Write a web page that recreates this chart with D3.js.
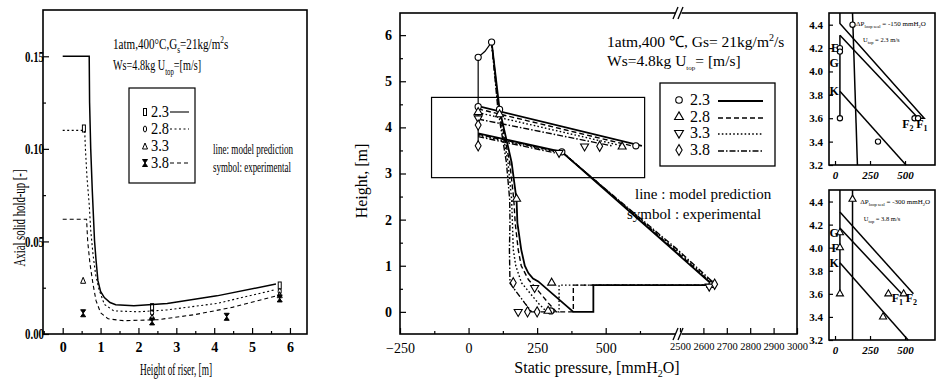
<!DOCTYPE html>
<html><head><meta charset="utf-8">
<script src="https://cdn.jsdelivr.net/npm/d3@7"></script>
<style>
body{margin:0;background:#fff}
svg{display:block}
text{font-family:"Liberation Serif","Times New Roman",serif;fill:#000}
</style>
</head><body>
<svg id="c" width="952" height="385"></svg>
<script>
// ---------------- DATA ----------------
// Left panel: axial solid hold-up vs height
const riserHeightTicks = [0,1,2,3,4,5,6];
const riserHeightMinor = [-0.5,0.5,1.5,2.5,3.5,4.5,5.5];
const holdupTicks = [0, 0.05, 0.10, 0.15];
const holdupMinor = [0.025, 0.075, 0.125];
const velocityLabels = ["2.3","2.8","3.3","3.8"];
const holdupModel23 = [[0,0.15],[0.7,0.15],[0.71,0.125],[0.74,0.10],[0.78,0.078],[0.84,0.0505],[0.88,0.04],[0.93,0.0288],[1.0,0.023],[1.1,0.0197],[1.25,0.017],[1.4,0.0158],[1.88,0.0152],[2.76,0.0165],[4.07,0.0206],[5.63,0.027]];
const holdupModel28 = [[0,0.11],[0.58,0.11],[0.6,0.1],[0.64,0.085],[0.7,0.07],[0.74,0.056],[0.8,0.043],[0.87,0.032],[0.96,0.024],[1.1,0.016],[1.35,0.0125],[2.0,0.012],[2.75,0.013],[4.07,0.0165],[5.63,0.024]];
const holdupModel38 = [[0,0.062],[0.63,0.062],[0.66,0.05],[0.72,0.038],[0.8,0.027],[0.88,0.018],[1.0,0.0115],[1.2,0.0082],[1.6,0.0072],[2.5,0.0077],[3.5,0.0105],[4.5,0.0145],[5.63,0.0205]];
const holdupExp23 = [[0.56,0.111],[2.36,0.0145],[5.73,0.0262]];
const holdupExp28 = [[2.36,0.0115],[5.73,0.023]];
const holdupExp33 = [[0.54,0.029],[2.36,0.0092],[5.73,0.0212]];
const holdupExp38 = [[0.54,0.0112],[2.36,0.0068],[4.33,0.0093],[5.73,0.0192]];

// Middle panel: static pressure loop
const pressureTicksA = [-250,0,250,500];
const pressureMinorA = [-125,125,375,625];
const pressureTicksB = [2500,2600,2700,2800,2900,3000];
const heightTicks = [0,1,2,3,4,5,6];
const heightMinor = [0.5,1.5,2.5,3.5,4.5,5.5];
const riser23 = [[84,5.85],[113,4.39],[157,3.24],[175,2.43],[178,1.93],[192,1.35],[205,1.0],[218,0.84],[235,0.72],[254,0.66],[382,0],[455,0],[455,0.58],[2640,0.58]];
const riser28 = [[84,5.85],[111,4.39],[150,3.24],[165,2.43],[170,1.93],[181,1.35],[192,1.0],[218,0.7],[255,0.45],[291,0.19],[320,0],[382,0],[382,0.58],[2640,0.58]];
const riser33 = [[84,5.85],[109,4.39],[144,3.24],[157,2.43],[160,1.93],[163,1.35],[172,1.0],[193,0.63],[254,0.19],[285,0],[330,0],[330,0.58],[2640,0.58]];
const riser38 = [[84,5.85],[107,4.39],[138,3.24],[150,2.43],[151,1.93],[149,1.35],[150,1.0],[151,0.62],[205,0.19],[230,0],[290,0]];
const standpipe = [[84,5.85],[60,5.65],[35,5.52],[35,3.6]];
const loopUpper23 = [[35,4.46],[632,3.6]];
const loopUpper28 = [[35,4.40],[595,3.6]];
const loopUpper33 = [[35,4.32],[560,3.6]];
const loopUpper38 = [[35,4.18],[522,3.6]];
const loopLower23 = [[35,3.87],[340,3.47],[760,1.27],[2500,1.21],[2640,0.58]];
const loopLower28 = [[35,3.85],[344,3.45],[760,1.30],[2500,1.24],[2643,0.58]];
const loopLower33 = [[35,3.83],[348,3.43],[760,1.33],[2500,1.27],[2646,0.58]];
const loopLower38 = [[35,3.80],[352,3.40],[760,1.36],[2500,1.30],[2650,0.60]];
const pressExp23 = [[84,5.85],[35,5.52],[35,4.45],[113,4.39],[340,3.47],[610,3.6],[2640,0.6],[300,0.02]];
const pressExp28 = [[35,4.33],[113,4.28],[303,0.63],[290,0.02],[560,3.58],[2632,0.58],[175,2.45]];
const pressExp33 = [[35,4.2],[241,0.52],[181,0.0],[423,3.59],[2625,0.55],[330,3.45]];
const pressExp38 = [[35,4.05],[35,3.6],[163,0.63],[215,0],[250,0],[478,3.59],[2648,0.6]];
const insetRegionP = [-135, 642];
const insetRegionH = [2.91, 4.65];

// Right insets (zoom of 3.2–4.5 m)
const insetHeightTicks = [3.2,3.4,3.6,3.8,4.0,4.2,4.4];
const insetPressTicks = [0,250,500];
const topF1 = [[35,4.5],[35,4.41],[637,3.6],[585,3.6]];
const topF2 = [[35,4.31],[595,3.6]];
const topStand = [[35,4.31],[35,3.6]];
const topK = [[35,3.83],[507,3.2]];
const topRiser = [[125,4.5],[160,3.2]];
const topExp = [[125,4.4],[35,4.2],[35,4.17],[35,3.6],[568,3.6],[593,3.6],[307,3.4]];
const botF2 = [[35,4.31],[560,3.6]];
const botF1 = [[35,4.17],[476,3.6]];
const botStand = [[35,4.5],[35,3.6]];
const botK = [[35,3.87],[522,3.2]];
const botRiser = [[125,4.5],[125,3.2]];
const botExp = [[125,4.42],[35,4.13],[35,4.0],[35,3.6],[381,3.6],[490,3.6],[343,3.4]];

// ---------------- DRAW ----------------
const svg = d3.select("#c");
const SERIF = '"Liberation Serif","Times New Roman",serif';
function styleAxis(g, fs, fw){
  g.select(".domain").remove();
  g.selectAll("line").attr("stroke","#000").attr("stroke-width",1.2);
  g.selectAll("text").attr("font-size",fs).attr("font-weight",fw).attr("font-family",SERIF).attr("fill","#000");
}
function frame(g, xs, ys){
  const [x0,x1]=xs.range(), [y0,y1]=ys.range();
  g.append("rect").attr("x",Math.min(x0,x1)).attr("y",Math.min(y0,y1))
   .attr("width",Math.abs(x1-x0)).attr("height",Math.abs(y1-y0))
   .attr("fill","none").attr("stroke","#000").attr("stroke-width",1.6);
}
function symMarker(g, type, x, y, size){
  const t = {circle:d3.symbolCircle, triUp:d3.symbolTriangle, triDown:d3.symbolTriangle, diamond:d3.symbolDiamond}[type];
  g.append("path").attr("d", d3.symbol().type(t).size(size)())
   .attr("transform",`translate(${x},${y})${type==="triDown"?" rotate(180)":""}`)
   .attr("fill","#fff").attr("stroke","#000").attr("stroke-width",1.1);
}
function smallMarker(g, type, x, y){
  if(type==="rect") g.append("rect").attr("x",x-1.5).attr("y",y-3.5).attr("width",3).attr("height",7).attr("fill","none").attr("stroke","#000").attr("stroke-width",1);
  else if(type==="ellipse") g.append("ellipse").attr("cx",x).attr("cy",y).attr("rx",1.6).attr("ry",3).attr("fill","none").attr("stroke","#000").attr("stroke-width",1);
  else if(type==="tri") g.append("path").attr("d",`M${x-2.5},${y+3}L${x},${y-3}L${x+2.5},${y+3}Z`).attr("fill","none").attr("stroke","#000").attr("stroke-width",1);
  else g.append("path").attr("d",`M${x-2.5},${y-3.5}L${x+2.5},${y-3.5}L${x-2.5},${y+3.5}L${x+2.5},${y+3.5}Z`).attr("fill","#000").attr("stroke","#000").attr("stroke-width",1);
}
const dashes = {solid:null, dash:"5,3", dot:"1.6,2.2", dashdot:"6,2,1.5,2"};

// ===== Left panel =====
{
const xs = d3.scaleLinear().domain([-0.52,6.45]).range([43,307]);
const ys = d3.scaleLinear().domain([0,0.175]).range([334,10]);
const g = svg.append("g");
frame(g, xs, ys);
const ax = g.append("g").attr("transform",`translate(0,${ys(0)})`)
  .call(d3.axisBottom(xs).tickValues(riserHeightTicks).tickSizeInner(-6).tickSizeOuter(0).tickPadding(8).tickFormat(d3.format("d")));
styleAxis(ax, 14, "bold");
const axm = g.append("g").attr("transform",`translate(0,${ys(0)})`)
  .call(d3.axisBottom(xs).tickValues(riserHeightMinor).tickSizeInner(-3).tickSizeOuter(0).tickFormat(""));
styleAxis(axm, 10, "normal");
const ay = g.append("g").attr("transform",`translate(${xs(-0.52)},0)`)
  .call(d3.axisLeft(ys).tickValues(holdupTicks).tickSizeInner(-6).tickSizeOuter(0).tickPadding(-1).tickFormat(d3.format(".2f")));
styleAxis(ay, 15, "bold");
ay.selectAll("text").attr("textLength",19).attr("lengthAdjust","spacingAndGlyphs");
const aym = g.append("g").attr("transform",`translate(${xs(-0.52)},0)`)
  .call(d3.axisLeft(ys).tickValues(holdupMinor).tickSizeInner(-3).tickSizeOuter(0).tickFormat(""));
styleAxis(aym, 10, "normal");

const ln = d3.line().x(d=>xs(d[0])).y(d=>ys(d[1]));
g.append("path").attr("d",ln(holdupModel23)).attr("fill","none").attr("stroke","#000").attr("stroke-width",1.5);
g.append("path").attr("d",ln(holdupModel28)).attr("fill","none").attr("stroke","#000").attr("stroke-width",1.1).attr("stroke-dasharray","2,2.5");
g.append("path").attr("d",ln(holdupModel38)).attr("fill","none").attr("stroke","#000").attr("stroke-width",1.1).attr("stroke-dasharray","4,3");
holdupExp23.forEach(d=>smallMarker(g,"rect",xs(d[0]),ys(d[1])));
holdupExp28.forEach(d=>smallMarker(g,"ellipse",xs(d[0]),ys(d[1])));
holdupExp33.forEach(d=>smallMarker(g,"tri",xs(d[0]),ys(d[1])));
holdupExp38.forEach(d=>smallMarker(g,"bow",xs(d[0]),ys(d[1])));

// texts (horizontally condensed, like the scan)
const t1 = g.append("text").attr("transform","translate(113,49) scale(0.74,1)").attr("font-size",15);
t1.append("tspan").text("1atm,400°C,G");
t1.append("tspan").attr("font-size",10).attr("dy",4).text("s");
t1.append("tspan").attr("dy",-4).text("=21kg/m");
t1.append("tspan").attr("font-size",10).attr("dy",-6).text("2");
t1.append("tspan").attr("dy",6).text("s");
const t2 = g.append("text").attr("transform","translate(113,70) scale(0.68,1)").attr("font-size",15);
t2.append("tspan").text("Ws=4.8kg  U");
t2.append("tspan").attr("font-size",10).attr("dy",5).text("top");
t2.append("tspan").attr("dy",-5).text("=[m/s]");

g.append("rect").attr("x",129).attr("y",88).attr("width",66).attr("height",95).attr("fill","none").attr("stroke","#000").attr("stroke-width",1.2);
const rowsY = [112,129,146,163];
const legTypes = ["rect","ellipse","tri","bow"];
const legDash = [null,"2,2.5",null,"4,3"];
velocityLabels.forEach((lab,i)=>{
  smallMarker(g, legTypes[i], 145, rowsY[i]);
  g.append("text").attr("x",151).attr("y",rowsY[i]+5).attr("font-size",16).text(lab).attr("textLength",18).attr("lengthAdjust","spacingAndGlyphs");
  if(i!==2) g.append("line").attr("x1",170).attr("x2",189).attr("y1",rowsY[i]).attr("y2",rowsY[i]).attr("stroke","#000").attr("stroke-width",1.1).attr("stroke-dasharray",legDash[i]);
});
g.append("text").attr("x",213).attr("y",154).attr("font-size",14).attr("textLength",80).attr("lengthAdjust","spacingAndGlyphs").text("line: model prediction");
g.append("text").attr("x",213).attr("y",172).attr("font-size",14).attr("textLength",78).attr("lengthAdjust","spacingAndGlyphs").text("symbol: experimental");
g.append("text").attr("x",176).attr("y",375).attr("text-anchor","middle").attr("font-size",17).attr("textLength",72).attr("lengthAdjust","spacingAndGlyphs").text("Height of riser, [m]");
g.append("text").attr("transform","translate(25,218) rotate(-90)").attr("text-anchor","middle").attr("font-size",17).attr("textLength",97).attr("lengthAdjust","spacingAndGlyphs").text("Axial solid hold-up [-]");
}

// ===== Middle panel =====
{
const xa = d3.scaleLinear().domain([-250,760]).range([400,677]);
const xb = d3.scaleLinear().domain([2500,3000]).range([680,797]);
const xp = p => p <= 1600 ? xa(p) : xb(p);
const ys = d3.scaleLinear().domain([-0.48,6.48]).range([334,13]);
const g = svg.append("g");
g.append("rect").attr("x",400).attr("y",13).attr("width",397).attr("height",321).attr("fill","none").attr("stroke","#000").attr("stroke-width",1.6);
const ba = g.append("g").attr("transform",`translate(0,${ys.range()[0]})`)
  .call(d3.axisBottom(xa).tickValues(pressureTicksA).tickSizeInner(-6).tickSizeOuter(0).tickPadding(9).tickFormat(d3.format("d")));
styleAxis(ba, 14, "normal");
const bam = g.append("g").attr("transform",`translate(0,${ys.range()[0]})`)
  .call(d3.axisBottom(xa).tickValues(pressureMinorA).tickSizeInner(-3).tickSizeOuter(0).tickFormat(""));
styleAxis(bam, 10, "normal");
const bb = g.append("g").attr("transform",`translate(0,${ys.range()[0]})`)
  .call(d3.axisBottom(xb).tickValues(pressureTicksB).tickSizeInner(-6).tickSizeOuter(0).tickPadding(9).tickFormat(d3.format("d")));
styleAxis(bb, 10.5, "normal");
const ly = g.append("g").attr("transform",`translate(400,0)`)
  .call(d3.axisLeft(ys).tickValues(heightTicks).tickSizeInner(-6).tickSizeOuter(0).tickPadding(8).tickFormat(d3.format("d")));
styleAxis(ly, 14, "bold");
const lym = g.append("g").attr("transform",`translate(400,0)`)
  .call(d3.axisLeft(ys).tickValues(heightMinor).tickSizeInner(-3).tickSizeOuter(0).tickFormat(""));
styleAxis(lym, 10, "normal");

// axis break marks
const bx = (xa(760)+xb(2500))/2;
[13,334].forEach(y=>{
  g.append("rect").attr("x",bx-3).attr("y",y-2).attr("width",6).attr("height",4).attr("fill","#fff");
  [-2.5,2.5].forEach(o=>g.append("line").attr("x1",bx+o-3).attr("y1",y+6).attr("x2",bx+o+2).attr("y2",y-6).attr("stroke","#000").attr("stroke-width",1.3));
});

// inset region rectangle
g.append("rect").attr("x",xp(insetRegionP[0])).attr("y",ys(insetRegionH[1]))
  .attr("width",xp(insetRegionP[1])-xp(insetRegionP[0])).attr("height",ys(insetRegionH[0])-ys(insetRegionH[1]))
  .attr("fill","none").attr("stroke","#000").attr("stroke-width",1.2);

const ln = d3.line().x(d=>xp(d[0])).y(d=>ys(d[1]));
const series = [
  {r:riser23, u:loopUpper23, l:loopLower23, dash:dashes.solid, w:1.8},
  {r:riser28, u:loopUpper28, l:loopLower28, dash:dashes.dash, w:1.4},
  {r:riser33, u:loopUpper33, l:loopLower33, dash:dashes.dot, w:1.4},
  {r:riser38, u:loopUpper38, l:loopLower38, dash:dashes.dashdot, w:1.4}
];
series.slice().reverse().forEach(s=>{
  [s.r,s.u,s.l].forEach(arr=>g.append("path").attr("d",ln(arr)).attr("fill","none").attr("stroke","#000").attr("stroke-width",s.w).attr("stroke-dasharray",s.dash));
});
g.append("path").attr("d",ln(standpipe)).attr("fill","none").attr("stroke","#000").attr("stroke-width",1.2);

pressExp23.forEach(d=>symMarker(g,"circle",xp(d[0]),ys(d[1]),30));
pressExp28.forEach(d=>symMarker(g,"triUp",xp(d[0]),ys(d[1]),28));
pressExp33.forEach(d=>symMarker(g,"triDown",xp(d[0]),ys(d[1]),28));
pressExp38.forEach(d=>symMarker(g,"diamond",xp(d[0]),ys(d[1]),30));

// texts
const t1 = g.append("text").attr("x",607).attr("y",47).attr("font-size",15.5);
t1.append("tspan").text("1atm,400 ℃, Gs= 21kg/m");
t1.append("tspan").attr("font-size",10).attr("dy",-6).text("2");
t1.append("tspan").attr("dy",6).text("/s");
const t2 = g.append("text").attr("x",607).attr("y",66).attr("font-size",15.5);
t2.append("tspan").text("Ws=4.8kg      U");
t2.append("tspan").attr("font-size",7).attr("dy",4).text("top");
t2.append("tspan").attr("dy",-4).text("= [m/s]");

g.append("rect").attr("x",660).attr("y",83).attr("width",115).attr("height",83).attr("fill","#fff").attr("stroke","#000").attr("stroke-width",1.3);
const legSym = ["circle","triUp","triDown","diamond"];
const legDash = [dashes.solid,dashes.dash,dashes.dot,dashes.dashdot];
[100,117,133,150].forEach((y,i)=>{
  symMarker(g, legSym[i], 679, y, 34);
  g.append("text").attr("x",690).attr("y",y+5).attr("font-size",16).text(velocityLabels[i]);
  g.append("line").attr("x1",718).attr("x2",763).attr("y1",y+1).attr("y2",y+1).attr("stroke","#000").attr("stroke-width",i===0?1.8:1.4).attr("stroke-dasharray",legDash[i]);
});
g.append("text").attr("x",635).attr("y",199).attr("font-size",15).text("line : model prediction");
g.append("text").attr("x",627).attr("y",219).attr("font-size",15).text("symbol : experimental");
const xt = g.append("text").attr("x",597).attr("y",373).attr("text-anchor","middle").attr("font-size",16);
xt.append("tspan").text("Static pressure, [mmH");
xt.append("tspan").attr("font-size",10).attr("dy",4).text("2");
xt.append("tspan").attr("dy",-4).text("O]");
g.append("text").attr("transform","translate(367,181) rotate(-90)").attr("text-anchor","middle").attr("font-size",16).text("Height, [m]");
}

// ===== Right insets =====
function inset(y0, y1, F1, F2, stand, K, riser, exp, mtype, lab, ann, vel, f1x, f2x){
  const xs = d3.scaleLinear().domain([-43,714]).range([829,935]);
  const ys = d3.scaleLinear().domain([3.2,4.5]).range([y1,y0]);
  const g = svg.append("g");
  frame(g, xs, ys);
  const ay = g.append("g").attr("transform",`translate(829,0)`)
    .call(d3.axisLeft(ys).tickValues(insetHeightTicks).tickSizeInner(-4).tickSizeOuter(0).tickPadding(6).tickFormat(d3.format(".1f")));
  styleAxis(ay, 11, "bold");
  const ax = g.append("g").attr("transform",`translate(0,${y1})`)
    .call(d3.axisBottom(xs).tickValues(insetPressTicks).tickSizeInner(-4).tickSizeOuter(0).tickPadding(6).tickFormat(d3.format("d")));
  styleAxis(ax, 11, "bold");
  ax.selectAll("text").attr("font-style","italic");
  const ln = d3.line().x(d=>xs(d[0])).y(d=>ys(d[1]));
  [F1,F2,stand,K,riser].forEach(a=>g.append("path").attr("d",ln(a)).attr("fill","none").attr("stroke","#000").attr("stroke-width",1.5));
  exp.forEach(d=>symMarker(g, mtype, xs(d[0]), ys(d[1]), 22));
  lab.forEach(([t,h])=>g.append("text").attr("x",xs(35)-1).attr("y",ys(h)+4).attr("text-anchor","end").attr("font-size",12).attr("font-weight","bold").text(t));
  const a1 = g.append("text").attr("x",xs(ann[0])).attr("y",ys(ann[1])).attr("font-size",7);
  a1.append("tspan").text("ΔP");
  a1.append("tspan").attr("font-size",4.5).attr("dy",2).text("loop seal");
  a1.append("tspan").attr("dy",-2).text(" = " + ann[2] + " mmH");
  a1.append("tspan").attr("font-size",4.5).attr("dy",2).text("2");
  a1.append("tspan").attr("dy",-2).text("O");
  const a2 = g.append("text").attr("x",xs(vel[0])).attr("y",ys(vel[1])).attr("font-size",6.5);
  a2.append("tspan").text("U");
  a2.append("tspan").attr("font-size",4.5).attr("dy",2).text("top");
  a2.append("tspan").attr("dy",-2).text(" = " + vel[2] + " m/s");
  [["F",f1x,"1"],["F",f2x,"2"]].forEach(([t,pos,s])=>{
    const tt = g.append("text").attr("x",xs(pos[0])).attr("y",ys(pos[1])).attr("font-size",12).attr("font-weight","bold");
    tt.append("tspan").text(t);
    tt.append("tspan").attr("font-size",8).attr("dy",3).text(s);
  });
}
inset(13,165, topF1, topF2, topStand, topK, topRiser, topExp, "circle",
  [["E",4.2],["G",4.07],["K",3.83]], [150,4.39,"-150"], [200,4.25,"2.3"], [580,3.52], [480,3.52]);
inset(190,340, botF2, botF1, botStand, botK, botRiser, botExp, "triUp",
  [["G",4.13],["F",4.0],["K",3.87]], [180,4.38,"-300"], [205,4.23,"3.8"], [405,3.53], [505,3.53]);
</script>
</body></html>
